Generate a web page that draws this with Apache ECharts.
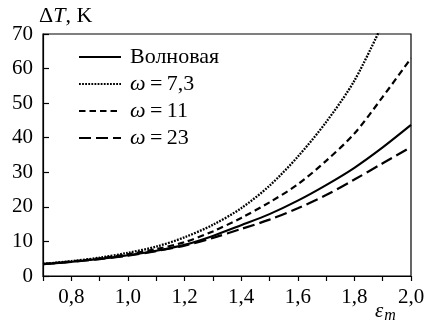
<!DOCTYPE html>
<html>
<head>
<meta charset="utf-8">
<script src="https://cdn.jsdelivr.net/npm/echarts@6/dist/echarts.min.js"></script>
<style>
html,body{margin:0;padding:0;background:#fff;}
#c{width:431px;height:330px;}
</style>
</head>
<body>
<div id="c"></div>
<script>
const xValues = [0.7, 0.8, 0.9, 1.0, 1.1, 1.2, 1.3, 1.4, 1.5, 1.6, 1.7, 1.8, 1.9, 2.0];
const waveData   = [3.4, 4.1, 4.9, 6.0, 7.3, 9.0, 11.6, 14.7, 17.9, 21.8, 26.3, 31.3, 37.2, 43.7];
const omega73    = [3.5, 4.3, 5.3, 6.7, 8.5, 11.2, 14.8, 19.6, 26.1, 34.5, 44.5, 56.5, 73.0];
const omega11    = [3.5, 4.2, 5.1, 6.3, 7.8, 9.8, 12.9, 16.8, 21.3, 26.5, 33.3, 41.2, 51.8, 63.0];
const omega23    = [3.4, 4.1, 4.9, 5.9, 7.2, 8.8, 11.0, 13.6, 16.3, 19.6, 23.4, 27.9, 32.6, 37.3];
const seriesNames = ['Волновая', 'ω=7,3', 'ω=11', 'ω=23'];
const xTickLabels = {8: '0,8', 10: '1,0', 12: '1,2', 14: '1,4', 16: '1,6', 18: '1,8', 20: '2,0'};
const yTickValues = [0, 10, 20, 30, 40, 50, 60, 70];

const FONT = '"Liberation Serif", "Times New Roman", serif';
const pairs = arr => arr.map((v, i) => [xValues[i], v]);

const chart = echarts.init(document.getElementById('c'), null, {renderer: 'canvas'});

function mkSeries(name, data, type, width) {
  return {
    name: name,
    type: 'line',
    data: pairs(data),
    smooth: 0.3,
    symbol: 'none',
    clip: true,
    lineStyle: {color: '#000', width: width, type: type, cap: 'butt'},
    itemStyle: {color: '#000'},
    emphasis: {disabled: true},
    animation: false
  };
}

const option = {
  animation: false,
  backgroundColor: '#fff',
  grid: {left: 43, right: 20, top: 34, bottom: 54, show: true, borderColor: '#000', borderWidth: 1.2, backgroundColor: 'transparent'},
  xAxis: {
    type: 'value',
    min: 0.7, max: 2.0, interval: 0.1,
    axisLine: {show: true, onZero: false, lineStyle: {color: '#000', width: 1.2}},
    axisTick: {show: true, inside: false, length: 5, lineStyle: {color: '#000', width: 1.2}},
    splitLine: {show: false},
    axisLabel: {
      show: true, margin: 11, color: '#000', fontFamily: FONT, fontSize: 21,
      showMinLabel: true, showMaxLabel: true,
      formatter: function (v) { const k = Math.round(v * 10); return xTickLabels[k] || ''; }
    }
  },
  yAxis: {
    type: 'value',
    min: 0, max: 70, interval: 10,
    name: '{d|Δ}{i|T}{d|, K}',
    nameLocation: 'end',
    nameGap: 7,
    nameTextStyle: {
      align: 'left', padding: [0, 0, 0, -4],
      rich: {
        d: {fontFamily: FONT, fontSize: 22, color: '#000'},
        i: {fontFamily: FONT, fontSize: 22, fontStyle: 'italic', color: '#000'}
      }
    },
    axisLine: {show: true, lineStyle: {color: '#000', width: 1.2}},
    axisTick: {show: true, inside: true, length: 6, lineStyle: {color: '#000', width: 1.2}},
    splitLine: {show: false},
    axisLabel: {
      margin: 10, color: '#000', fontFamily: FONT, fontSize: 21,
      formatter: function (v) { return yTickValues.indexOf(v) >= 0 ? String(v) : ''; }
    }
  },
  legend: {
    show: true,
    orient: 'vertical',
    left: 73, top: 41,
    itemWidth: 42, itemHeight: 14, itemGap: 5,
    data: seriesNames,
    itemStyle: {color: 'rgba(0,0,0,0)', borderColor: 'rgba(0,0,0,0)', borderWidth: 0, opacity: 0},
    formatter: function (name) {
      if (name.indexOf('ω') === 0) {
        return '{i|ω}{d|\u2009=\u2009' + name.slice(2) + '}';
      }
      return '{d|' + name + '}';
    },
    textStyle: {
      padding: [0, 0, 0, 4],
      rich: {
        d: {fontFamily: FONT, fontSize: 22, color: '#000'},
        i: {fontFamily: FONT, fontSize: 22, fontStyle: 'italic', color: '#000'}
      }
    },
    selectedMode: false
  },
  graphic: [{
    type: 'text',
    left: 375, top: 301,
    style: {
      rich: {
        e: {fontFamily: FONT, fontSize: 21, fontStyle: 'italic', fill: '#000'},
        m: {fontFamily: FONT, fontSize: 16, fontStyle: 'italic', fill: '#000', padding: [9, 0, 0, 1]}
      },
      text: '{e|ε}{m|m}'
    }
  }],
  series: [
    mkSeries(seriesNames[0], waveData, 'solid', 2.1),
    mkSeries(seriesNames[1], omega73, [1.8, 1.3], 2.3),
    mkSeries(seriesNames[2], omega11, [6.5, 4], 2.2),
    mkSeries(seriesNames[3], omega23, [12, 5], 2.2)
  ]
};
chart.setOption(option);
</script>
</body>
</html>
